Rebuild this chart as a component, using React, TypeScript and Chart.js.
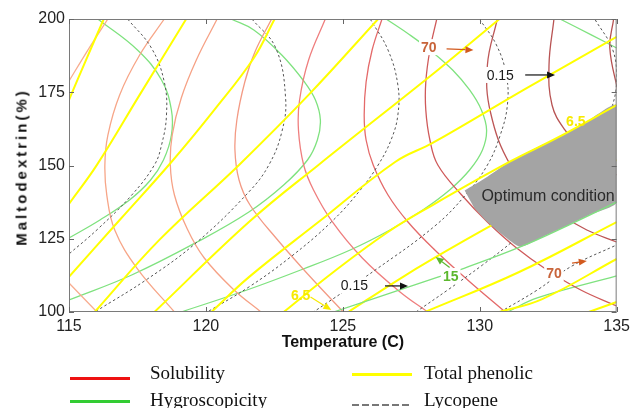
import React, { useEffect, useRef } from "react";
import { Chart, registerables } from "chart.js";

Chart.register(...registerables);

type Pt = [number, number]; // [temperature (C), maltodextrin (%)]

// ---------------- axes ----------------
const X_TICKS = [115, 120, 125, 130, 135];
const Y_TICKS = [100, 125, 150, 175, 200];

// ---------------- Solubility contours ----------------
const SOL_1A: Pt[] = [[116.42, 200], [115.69, 189.4], [114.96, 178.2]];
const SOL_1B: Pt[] = [[115, 109.9], [116.02, 100]];
const SOL_2: Pt[] = [[118.48, 200], [117.58, 187.7], [116.85, 174.1], [116.42, 160.4], [116.31, 150.2], [116.38, 139.9], [116.67, 128], [117.5, 114.7], [118.85, 100]];
const SOL_3: Pt[] = [[120.41, 200], [119.65, 186.01], [119.1, 173.04], [118.77, 160.41], [118.7, 150.17], [118.85, 139.93], [119.32, 128.33], [119.94, 118.43], [121.03, 107.51], [122.01, 100]];
const SOL_4: Pt[] = [[122.4, 200], [121.79, 188.74], [121.42, 178.5], [121.13, 165.53], [121.06, 155.29], [121.21, 145.05], [121.61, 136.52], [122.59, 124.91], [123.75, 112.63], [125.02, 100]];
const SOL_5: Pt[] = [[124.36, 200], [123.75, 186.01], [123.42, 172.35], [123.38, 162.12], [123.57, 150.17], [123.93, 141.64], [124.62, 130.72], [125.71, 118.43], [127.09, 106.83], [128.1, 100]];
const SOL_6: Pt[] = [[126.43, 200], [126.07, 189.42], [125.85, 178.5], [125.78, 167.24], [125.85, 158.7], [126.11, 150.17], [126.65, 139.93], [127.38, 130.72], [128.36, 121.16], [129.56, 110.92], [130.93, 100]];
const SOL_7: Pt[] = [[128.43, 200], [128.18, 189.42], [128.03, 178.5], [128.03, 168.94], [128.18, 158.7], [128.47, 150.17], [129.34, 139.93], [130.28, 130.72], [131.3, 122.18], [132.46, 114.33], [133.69, 107.51], [135, 102.05]];
const SOL_8: Pt[] = [[130.64, 200], [130.28, 184.3], [130.39, 168.26], [131.12, 150.17], [132.1, 139.93], [133.0, 133.11], [133.91, 127.99], [135, 123.89]];
const SOL_9: Pt[] = [[132.71, 200], [132.53, 184.3], [132.64, 170.65], [133.11, 162.12], [133.91, 153.58], [135, 146.76]];
const SOL_10: Pt[] = [[134.89, 200], [134.75, 190.1], [135.05, 175.1]];

// ---------------- Hygroscopicity contours ----------------
const HYG_1: Pt[] = [[116.05, 200], [117.5, 189.42], [118.38, 179.18], [118.74, 168.94], [118.74, 160.41], [118.45, 151.88], [117.98, 145.05], [117.21, 138.23], [116.13, 131.4], [115, 125.26]];
const HYG_2: Pt[] = [[120.92, 200], [121.75, 196.25], [122.77, 187.71], [123.6, 178.5], [124.0, 172.35], [124.18, 165.53], [124.07, 158.7], [123.71, 151.88], [122.84, 143.34], [121.57, 134.13], [119.68, 123.89], [117.29, 112.63], [115, 104.1]];
const HYG_3: Pt[] = [[126.58, 200], [127.45, 194.54], [128.18, 189.42], [129.01, 182.59], [129.63, 175.77], [130.06, 168.94], [130.25, 162.12], [130.1, 155.29], [129.63, 148.46], [128.9, 141.64], [127.92, 134.81], [126.72, 127.99], [125.27, 121.16], [123.46, 114.33], [121.5, 107.51], [119.1, 100]];
const HYG_4A: Pt[] = [[132.93, 200], [134.09, 194.5], [135, 190.1]];
const HYG_4B: Pt[] = [[124.66, 100], [127.38, 108.5], [128.47, 111.9], [129.45, 115], [131.48, 122.2], [133.19, 129.4], [135, 137.5]];
const HYG_5: Pt[] = [[131.01, 100], [132.1, 104.8], [135, 112.3]];

// ---------------- Total phenolic contours ----------------
const PHE_1: Pt[] = [[115, 172.4], [115.62, 186], [116.27, 200]];
const PHE_2: Pt[] = [[115, 136.9], [116.02, 150.2], [117.58, 174.1], [119.28, 200]];
const PHE_3: Pt[] = [[115, 112], [116.85, 131.4], [118.74, 151.2], [120.3, 168.9], [121.75, 186.7], [122.51, 200]];
const PHE_4: Pt[] = [[115.94, 100], [118.3, 124.6], [121.21, 150.2], [123.75, 174.1], [126.29, 200]];
const PHE_5: Pt[] = [[118.12, 100], [121.57, 130.7], [124.11, 150.2], [128.47, 182.6], [130.72, 200]];
const PHE_6: Pt[] = [[120.2, 100], [121.57, 111.9], [124.11, 130.7], [126.91, 151.2], [128.28, 157.7], [131.73, 176.5], [135, 193.9]];
const PHE_7: Pt[] = [[122.84, 100], [124.66, 113.65], [126.65, 127.3], [128.28, 136.5], [131.08, 151.2], [132.82, 159.4], [135, 170.6]];
const PHE_8: Pt[] = [[125.2, 100], [127.01, 110.9], [128.28, 118.1], [130.46, 129.7], [132.82, 141.6], [135, 151.9]];
const PHE_9: Pt[] = [[128.0, 100], [131.44, 113.65], [135, 130.7]];
const PHE_10: Pt[] = [[130.72, 100], [132.28, 104.4], [135, 118.1]];
const PHE_11: Pt[] = [[133.98, 100], [135, 103.4]];

// ---------------- Lycopene contours ----------------
const LYC_1: Pt[] = [[117.14, 200], [118.01, 190.1], [118.48, 178.5], [118.56, 167.2], [118.38, 157], [118.12, 150.2], [117.29, 139.9], [116.05, 128.3], [115, 119.8]];
const LYC_2: Pt[] = [[121.68, 200], [122.55, 190.1], [122.91, 173], [122.77, 161.4], [122.3, 150.2], [121.57, 141], [119.68, 123.9], [117.87, 111.3], [115.94, 100]];
const LYC_3: Pt[] = [[126.0, 200], [126.65, 189.42], [127.01, 177.47], [127.01, 167.24], [126.76, 158.7], [126.29, 150.17], [125.64, 141.64], [124.58, 130.72], [123.09, 118.77], [121.57, 108.53], [120.05, 100]];
const LYC_4: Pt[] = [[129.99, 200], [130.61, 191.13], [130.97, 180.89], [131.01, 170.65], [130.75, 160.41], [130.28, 150.17], [129.48, 139.93], [128.36, 129.35], [126.29, 115.02], [123.93, 100]];
const LYC_5: Pt[] = [[127.67, 100], [128.83, 107.51], [130.1, 116.04], [131.26, 124.57], [132.46, 134.81], [133.55, 146.76], [134.35, 158.7], [134.82, 169.62], [135, 179.18], [134.86, 189.42], [134.2, 200]];
const LYC_6: Pt[] = [[130.75, 100], [132.1, 107.5], [133.37, 115.7], [135, 122.9]];

// ---------------- Optimum region ----------------
const OPTIMUM: Pt[] = [[129.45, 141.5], [130.28, 146.2], [131.08, 151.2], [132.1, 156.2], [132.82, 159.4], [133.9, 165], [135, 170.6], [135, 137.5], [134.1, 133.5], [133.19, 129.4], [132.3, 125.6], [131.48, 122.3], [130.85, 126.2], [130.28, 130.7], [129.8, 135.5]];

// ---------------- annotations ----------------
const LABEL_TEXT = ["70", "0.15", "6.5", "70", "15", "0.15", "6.5"];
const LABEL_AT: Pt[] = [[128.14, 190.4], [130.75, 180.9], [133.51, 165.0], [132.71, 113.3], [128.94, 112.3], [125.42, 109.2], [123.46, 105.8]];
const LABEL_KIND = ["sol", "lyc", "phe", "sol", "hyg", "lyc", "phe"];
const ARROW_FROM: Pt[] = [[128.79, 189.8], [131.66, 180.9], [133.37, 116.7], [128.9, 115.2], [126.54, 108.9], [123.82, 105.1]];
const ARROW_TO: Pt[] = [[129.77, 189.4], [132.75, 180.9], [133.91, 117.4], [128.39, 118.8], [127.38, 108.9], [124.58, 100.7]];
const ARROW_KIND = ["sol", "lyc", "sol", "hyg", "lyc", "phe"];
const OPT_TEXT = "Optimum condition";
const OPT_TEXT_AT: Pt = [130.06, 139.6];

const SOLUBILITY = [SOL_1A, SOL_1B, SOL_2, SOL_3, SOL_4, SOL_5, SOL_6, SOL_7, SOL_8, SOL_9, SOL_10];
const HYGROSCOPICITY = [HYG_1, HYG_2, HYG_3, HYG_4A, HYG_4B, HYG_5];
const PHENOLIC = [PHE_1, PHE_2, PHE_3, PHE_4, PHE_5, PHE_6, PHE_7, PHE_8, PHE_9, PHE_10, PHE_11];
const LYCOPENE = [LYC_1, LYC_2, LYC_3, LYC_4, LYC_5, LYC_6];

// ---------------- styles ----------------
const SOL_COLORS = ["#f8ad90", "#f8ad90", "#f7a688", "#f6a286", "#f39a84", "#ef7e7e", "#e46a6a", "#cf5a5a", "#bd5656", "#b85353", "#b55050"];
const HYG_COLOR = "#7fe27f";
const PHE_COLOR = "#ffff00";
const LYC_COLOR = "#555555";
const OPT_FILL = "#a4a4a4";
const KIND_COLOR: Record<string, string> = { sol: "#c8643a", lyc: "#1a1a1a", phe: "#f7ea00", hyg: "#5cb82e" };
const ARROW_COLOR: Record<string, string> = { sol: "#d25a1e", lyc: "#111111", phe: "#f7ea00", hyg: "#5cb82e" };
const SANS = "'Liberation Sans', Arial, Helvetica, sans-serif";
const SERIF = "'Liberation Serif', 'Times New Roman', Times, serif";

const toXY = (pts: Pt[]) => pts.map((p) => ({ x: p[0], y: p[1] }));

function buildDatasets() {
  const ds: any[] = [];
  const line = (pts: Pt[], color: string, width: number, dash: number[], order: number) => ({
    data: toXY(pts),
    showLine: true,
    borderColor: color,
    borderWidth: width,
    borderDash: dash,
    pointRadius: 0,
    pointHoverRadius: 0,
    tension: 0.4,
    fill: false,
    order,
  });
  SOLUBILITY.forEach((p, i) => ds.push(line(p, SOL_COLORS[i], 1.3, [], 5)));
  HYGROSCOPICITY.forEach((p) => ds.push(line(p, HYG_COLOR, 1.3, [], p === HYG_4B ? 1 : 5)));
  LYCOPENE.forEach((p) => ds.push(line(p, LYC_COLOR, 1, [2.5, 2.5], 4)));
  PHENOLIC.forEach((p) => ds.push(line(p, PHE_COLOR, 2, [], p === PHE_7 ? 1 : 3)));
  ds.push({
    data: toXY(OPTIMUM),
    showLine: true,
    borderColor: "rgba(0,0,0,0)",
    borderWidth: 0,
    backgroundColor: OPT_FILL,
    pointRadius: 0,
    tension: 0.2,
    fill: "shape",
    order: 2,
  });
  return ds;
}

const overlayPlugin = {
  id: "overlay",
  afterDatasetsDraw(chart: any) {
    const { ctx, chartArea: a, scales } = chart;
    const xs = scales.x;
    const ys = scales.y;
    const px = (p: Pt) => [xs.getPixelForValue(p[0]), ys.getPixelForValue(p[1])];
    ctx.save();

    // arrows
    ARROW_FROM.forEach((f, i) => {
      const [x1, y1] = px(f);
      const [x2, y2] = px(ARROW_TO[i]);
      const c = ARROW_COLOR[ARROW_KIND[i]];
      const ang = Math.atan2(y2 - y1, x2 - x1);
      const hl = 8;
      const hw = 3.5;
      ctx.strokeStyle = c;
      ctx.fillStyle = c;
      ctx.lineWidth = 1.2;
      ctx.beginPath();
      ctx.moveTo(x1, y1);
      ctx.lineTo(x2 - hl * Math.cos(ang), y2 - hl * Math.sin(ang));
      ctx.stroke();
      ctx.beginPath();
      ctx.moveTo(x2, y2);
      ctx.lineTo(x2 - hl * Math.cos(ang) + hw * Math.sin(ang), y2 - hl * Math.sin(ang) - hw * Math.cos(ang));
      ctx.lineTo(x2 - hl * Math.cos(ang) - hw * Math.sin(ang), y2 - hl * Math.sin(ang) + hw * Math.cos(ang));
      ctx.closePath();
      ctx.fill();
    });

    // labels (white background except phenolic ones)
    ctx.textAlign = "center";
    ctx.textBaseline = "middle";
    LABEL_TEXT.forEach((t, i) => {
      const kind = LABEL_KIND[i];
      const bold = kind !== "lyc";
      ctx.font = `${bold ? "bold " : ""}14px ${SANS}`;
      const [x, y] = px(LABEL_AT[i]);
      const w = ctx.measureText(t).width;
      if (kind !== "phe") {
        ctx.fillStyle = "#ffffff";
        ctx.fillRect(x - w / 2 - 2, y - 8, w + 4, 16);
      }
      ctx.fillStyle = KIND_COLOR[kind];
      ctx.fillText(t, x, y + 1);
    });

    // optimum text
    ctx.textAlign = "left";
    ctx.font = `16px ${SANS}`;
    ctx.fillStyle = "#2a2a2a";
    const [ox, oy] = px(OPT_TEXT_AT);
    ctx.fillText(OPT_TEXT, ox, oy + 1);

    // axes box
    ctx.strokeStyle = "#7a7a7a";
    ctx.lineWidth = 1;
    ctx.setLineDash([]);
    ctx.strokeRect(a.left + 0.5, a.top + 0.5, a.right - a.left - 1, a.bottom - a.top - 1);

    // inward ticks
    ctx.strokeStyle = "#666666";
    ctx.beginPath();
    X_TICKS.forEach((v) => {
      const x = Math.round(xs.getPixelForValue(v)) + 0.5;
      ctx.moveTo(x, a.bottom);
      ctx.lineTo(x, a.bottom - 5);
      ctx.moveTo(x, a.top);
      ctx.lineTo(x, a.top + 5);
    });
    Y_TICKS.forEach((v) => {
      const y = Math.round(ys.getPixelForValue(v)) + 0.5;
      ctx.moveTo(a.left, y);
      ctx.lineTo(a.left + 5, y);
      ctx.moveTo(a.right, y);
      ctx.lineTo(a.right - 5, y);
    });
    ctx.stroke();
    ctx.restore();
  },
};

export default function App() {
  const ref = useRef<HTMLCanvasElement | null>(null);

  useEffect(() => {
    if (!ref.current) return;
    const chart = new Chart(ref.current, {
      type: "scatter",
      data: { datasets: buildDatasets() },
      options: {
        responsive: false,
        animation: false,
        devicePixelRatio: 1,
        events: [],
        layout: { padding: { left: 0, right: 15, top: 19, bottom: 0 } },
        plugins: { legend: { display: false }, tooltip: { enabled: false } },
        scales: {
          x: {
            type: "linear",
            min: 115,
            max: 135,
            afterBuildTicks: (s: any) => {
              s.ticks = X_TICKS.map((v) => ({ value: v }));
            },
            afterFit: (s: any) => {
              s.height = 96;
            },
            grid: { display: false, drawTicks: false },
            border: { display: false },
            ticks: { color: "#222", font: { family: SANS, size: 16 }, padding: 5, maxRotation: 0, autoSkip: false },
            title: {
              display: true,
              text: "Temperature (C)",
              color: "#111",
              font: { family: SANS, size: 16, weight: "bold" },
              padding: { top: 0, bottom: 56 },
            },
          },
          y: {
            type: "linear",
            min: 100,
            max: 200,
            afterBuildTicks: (s: any) => {
              s.ticks = Y_TICKS.map((v) => ({ value: v }));
            },
            afterFit: (s: any) => {
              s.width = 69;
            },
            grid: { display: false, drawTicks: false },
            border: { display: false },
            ticks: { color: "#222", font: { family: SANS, size: 16 }, padding: 4, autoSkip: false },
          },
        },
      } as any,
      plugins: [overlayPlugin],
    } as any);
    return () => chart.destroy();
  }, []);

  const legendText = (top: number, left: number, text: string) => (
    <div
      style={{
        position: "absolute",
        left,
        top: top - 11,
        height: 22,
        lineHeight: "22px",
        fontFamily: SERIF,
        fontSize: 19,
        color: "#111",
        whiteSpace: "nowrap",
      }}
    >
      {text}
    </div>
  );

  return (
    <div style={{ position: "fixed", left: 0, top: 0, width: 635, height: 408, background: "#fff", overflow: "hidden" }}>
      <canvas ref={ref} width={635} height={408} style={{ position: "absolute", left: 0, top: 0, width: 635, height: 408 }} />
      <div
        style={{
          position: "absolute",
          left: 21,
          top: 167,
          transform: "translate(-50%, -50%) rotate(-90deg)",
          fontFamily: SANS,
          fontWeight: "bold",
          fontSize: 15,
          letterSpacing: "3px",
          color: "#111",
          whiteSpace: "nowrap",
        }}
      >
        Maltodextrin(%)
      </div>
      {/* legend */}
      <div style={{ position: "absolute", left: 70, top: 377, width: 60, height: 3, background: "#ee1111" }} />
      {legendText(373, 150, "Solubility")}
      <div style={{ position: "absolute", left: 70, top: 400, width: 60, height: 3, background: "#33cc33" }} />
      {legendText(400, 150, "Hygroscopicity")}
      <div style={{ position: "absolute", left: 352, top: 373, width: 60, height: 3, background: "#ffff00" }} />
      {legendText(373, 424, "Total phenolic")}
      <div
        style={{
          position: "absolute",
          left: 352,
          top: 404,
          width: 60,
          height: 2,
          background: "repeating-linear-gradient(to right, #777 0px, #777 7px, transparent 7px, transparent 10px)",
        }}
      />
      {legendText(400, 424, "Lycopene")}
    </div>
  );
}
